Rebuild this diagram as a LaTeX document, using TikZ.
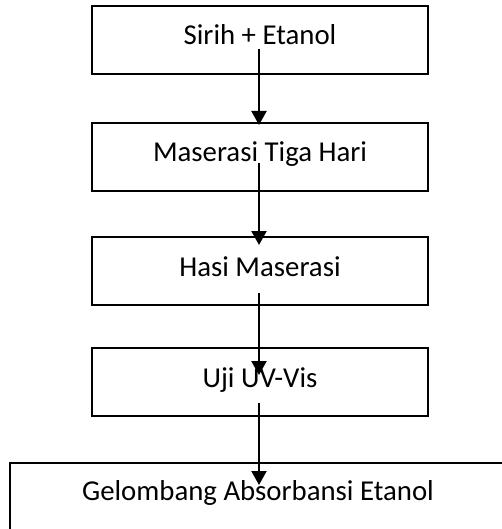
\documentclass[tikz,border=0pt]{standalone}
\usepackage{fontspec}
\setmainfont{Carlito}
\usetikzlibrary{arrows.meta}
\begin{document}
\begin{tikzpicture}[x=1pt,y=-1pt,
  stepbox/.style={draw=black,line width=2.1pt,minimum width=336pt,minimum height=68pt,inner sep=0pt,
    font=\fontsize{28.8}{34}\selectfont,text height=20pt,text depth=10pt},
  txt/.style={inner sep=0pt,font=\fontsize{28.8}{34}\selectfont,text height=20pt,text depth=10pt},
  arr/.style={line width=2.2pt,-{Triangle[width=15pt,length=14pt]}}]
\clip (0,0) rectangle (502,529);
\fill[white] (0,0) rectangle (502,529);
\node[stepbox] (b1) at (260,40) {Sirih + Etanol};
\node[stepbox] (b2) at (260,157) {Maserasi Tiga Hari};
\node[stepbox] (b3) at (260,271) {Hasi Maserasi};
\node[stepbox] (b4) at (260,382) {Uji UV-Vis};
\node[draw=black,line width=2.1pt,minimum width=520pt,minimum height=120pt,inner sep=0pt,anchor=north west] (b5) at (9,462) {};
\node[txt] (t5) at (258,495) {Gelombang Absorbansi Etanol};
\coordinate (a1s) at (259,49);  \coordinate (a1e) at (259,125);
\coordinate (a2s) at (259,163); \coordinate (a2e) at (259,245);
\coordinate (a3s) at (259,293); \coordinate (a3e) at (259,375);
\coordinate (a4s) at (259,403); \coordinate (a4e) at (259,485);
\draw[arr] (a1s) -- (a1e);
\draw[arr] (a2s) -- (a2e);
\draw[arr] (a3s) -- (a3e);
\draw[arr] (a4s) -- (a4e);
\end{tikzpicture}
\end{document}
